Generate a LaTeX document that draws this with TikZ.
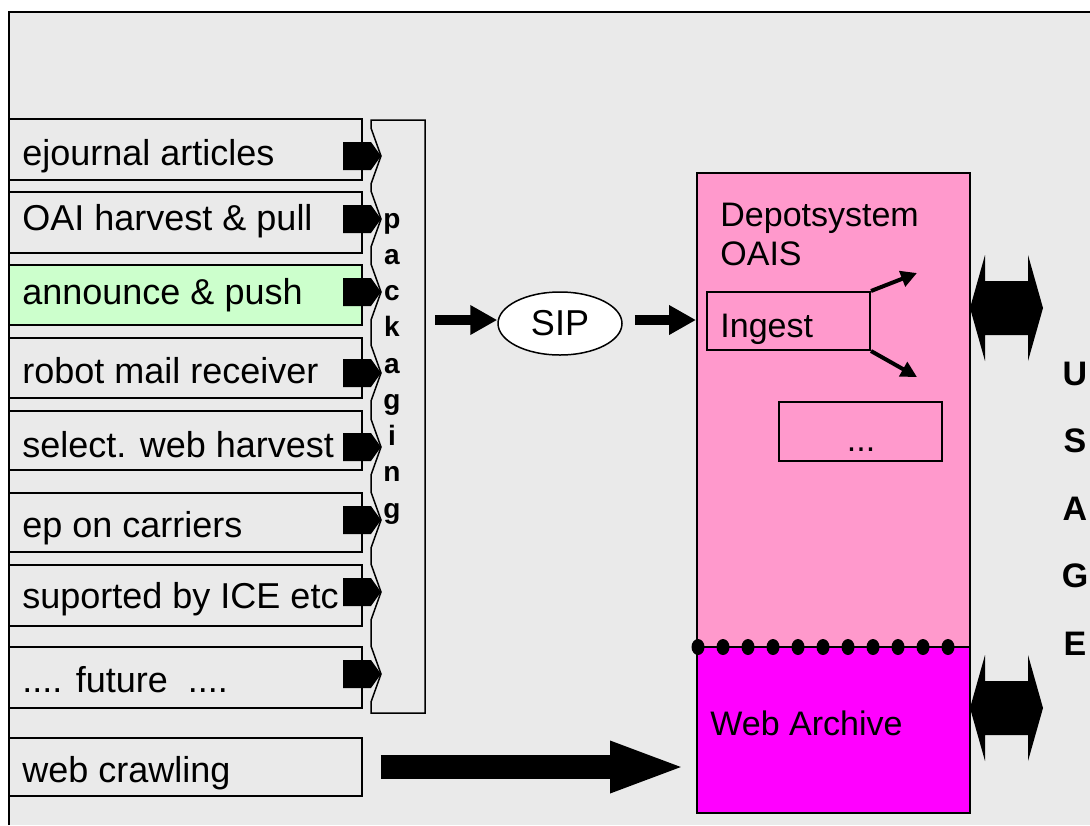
\documentclass[tikz,border=0pt]{standalone}
\usepackage{fontspec}
\setmainfont{Liberation Sans}
\usetikzlibrary{arrows.meta,shapes.geometric}
\definecolor{bggray}{HTML}{EAEAEA}
\definecolor{pushgreen}{HTML}{CCFFCC}
\definecolor{oaispink}{HTML}{FF99CC}
\definecolor{archmag}{HTML}{FF00FF}
\def\fdots{....}
\def\usagearrow#1{\fill (970,#1) -- (985,#1-53) -- (985,#1-27) -- (1028,#1-27) -- (1028,#1-53) -- (1043,#1) -- (1028,#1+53) -- (1028,#1+27) -- (985,#1+27) -- (985,#1+53) -- cycle;}
\tikzset{
	srcbox/.style={draw, line width=0.75pt, minimum width=176.5pt, inner sep=0pt},
	srctext/.style={anchor=base west, inner sep=0pt, font=\fontsize{18}{21.6}\selectfont},
	pinktext/.style={anchor=base west, inner sep=0pt, font=\fontsize{17}{20.4}\selectfont},
	depotbox/.style={draw, line width=1pt, inner sep=0pt},
	letter/.style={anchor=base, inner sep=0pt, font=\bfseries\fontsize{14}{16.8}\selectfont},
	siparrow/.style={line width=5pt, -{Triangle[length=13.5pt,width=14pt]}},
	crawlarrow/.style={line width=12pt, -{Triangle[length=38.5pt,width=23pt]}},
	splitarrow/.style={line width=2pt, -{Triangle[length=8pt,width=8pt]}}
}
\begin{document}
\begin{tikzpicture}[x=0.5pt,y=-0.5pt]
		%%%%% START %%%%%
		\useasboundingbox (0,0) rectangle (1090,825);
		\fill[white] (0,0) rectangle (1090,825);
		\fill[bggray] (9,12) rectangle (1090,825);
		\draw[line width=1.25pt] (9,825) -- (9,12) -- (1090,12);
		
		\draw[line width=0.75pt, fill=bggray] (371,120) -- (425,120) -- (425,713) -- (371,713)
			\foreach \yc in {674,592,520,447,373,292,219,156} { -- (371,\yc+28) -- (381,\yc) -- (371,\yc-28) } -- cycle;
		\foreach \ch [count=\i from 0] in {p,a,c,k,a,g,i,n,g}
			\node[letter] (pack\i) at (392,228+36.25*\i) {\ch};
		\coordinate (packout) at (425,320);
		
		\foreach \nm/\fl/\ya/\yb/\yt/\ay/\txt in {
			ejournal/bggray/119/180/165/156/ejournal articles,
			oai/bggray/192/253/230/219/OAI harvest \& pull,
			push/pushgreen/265/325/304/292/announce \& push,
			robot/bggray/338/398/383/373/robot mail receiver,
			select/bggray/411/470/457/447/select. web harvest,
			carrier/bggray/493/552/537/520/ep on carriers,
			ice/bggray/565/626/608/592/suported by ICE etc,
			future/bggray/647/708/692/674/\fdots{} future\ \ \fdots}
		{
			\node[srcbox, fill=\fl, minimum height={(\yb-\ya)*0.5pt}] (\nm) at (185.5,{(\ya+\yb)/2}) {};
			\node[srctext] (\nm-l) at (22,\yt) {\txt};
			\fill (343,\ay-14) -- (371,\ay-14) -- (381,\ay) -- (371,\ay+14) -- (343,\ay+14) -- cycle;
		}
		\node[srcbox, fill=bggray, minimum height=29pt] (crawl) at (185.5,767) {};
		\node[srctext] (crawl-l) at (22,782) {web crawling};
		
		\node[draw, ellipse, fill=white, line width=0.75pt, minimum width=62pt, minimum height=31.5pt, inner sep=0pt, font=\fontsize{18}{21.6}\selectfont] (sip) at (560,323.5) {SIP};
		
		\node[depotbox, fill=oaispink, minimum width=136.5pt, minimum height=237pt] (depot) at (833.5,410) {};
		\node[pinktext] (depot-l) at (720,226) {Depotsystem};
		\node[pinktext] (oais-l) at (720,265) {OAIS};
		\node[depotbox, minimum width=81.5pt, minimum height=29pt] (ingest) at (788.5,321) {};
		\node[pinktext] (ingest-l) at (720,337) {Ingest};
		\node[depotbox, minimum width=81.5pt, minimum height=29.5pt] (more) at (860.5,431.5) {};
		\node[pinktext, anchor=base] (more-l) at (861,451) {...};
		\node[depotbox, fill=archmag, minimum width=136.5pt, minimum height=83pt] (archive) at (833.5,730) {};
		\node[pinktext] (archive-l) at (710,735) {Web Archive};
		\foreach \i in {0,...,10}
			\fill (698+25*\i,647) ellipse (6.5 and 8);
		
		\coordinate (upout) at (917,273);
		\coordinate (downout) at (917,377);
		\draw[splitarrow] (ingest.north east) -- (upout);
		\draw[splitarrow] (ingest.south east) -- (downout);
		
		\draw[siparrow, shorten <=5pt] (packout) -- (sip.west |- packout);
		\draw[siparrow, shorten <=6pt] (sip.east |- packout) -- (depot.west |- packout);
		\draw[crawlarrow] ([xshift=9pt]crawl.east) -- ([xshift=-4.5pt]crawl.east -| archive.west);
		
		\usagearrow{308}
		\usagearrow{708}
		\foreach \ch [count=\i from 0] in {U,S,A,G,E}
			\node[letter, font=\bfseries\fontsize{17}{20.4}\selectfont] (usage\i) at (1075,385+67.5*\i) {\ch};
		%%%%% END %%%%%
\end{tikzpicture}
\end{document}
